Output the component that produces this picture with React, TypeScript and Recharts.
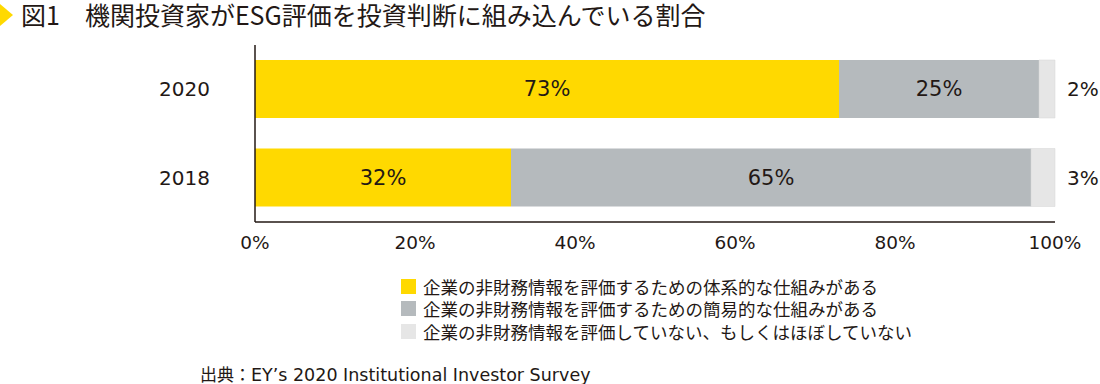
import React from 'react';
import { BarChart, Bar, XAxis, YAxis, LabelList, Legend } from 'recharts';

const years = ['2020', '2018'];
const systematic = [73, 32];
const simple = [25, 65];
const none = [2, 3];
const xTicks = [0, 20, 40, 60, 80, 100];

const seriesNames = [
  '企業の非財務情報を評価するための体系的な仕組みがある',
  '企業の非財務情報を評価するための簡易的な仕組みがある',
  '企業の非財務情報を評価していない、もしくはほぼしていない',
];

const COLORS = ['#FFD900', '#B5BABD', '#E6E6E6'];
const TEXT = '#231815';
const JP_FONT = '"Noto Sans CJK JP", "Noto Sans", sans-serif';
const NUM_FONT = '"DejaVu Sans", sans-serif';

const data = years.map((year, i) => ({
  year,
  systematic: systematic[i],
  simple: simple[i],
  none: none[i],
}));

const pct = (v: any) => `${v}%`;

const LegendBox = () => (
  <div style={{ fontFamily: JP_FONT, fontSize: 17.5, color: TEXT, lineHeight: 1 }}>
    {seriesNames.map((name, i) => (
      <div key={name} style={{ display: 'flex', alignItems: 'center', height: 22.5 }}>
        <span
          style={{
            display: 'inline-block',
            width: 15,
            height: 15,
            background: COLORS[i],
            marginRight: 7,
            flex: 'none',
          }}
        />
        <span style={{ whiteSpace: 'nowrap' }}>{name}</span>
      </div>
    ))}
  </div>
);

const App: React.FC = () => {
  return (
    <div style={{ position: 'absolute', top: 0, left: 0, width: 1100, height: 384, background: '#fff', overflow: 'hidden' }}>
      {/* title */}
      <div style={{ position: 'absolute', left: 0, top: 4, width: 0, height: 0, borderTop: '11px solid transparent', borderBottom: '11px solid transparent', borderLeft: '13px solid #FFD900' }} />
      <div
        style={{
          position: 'absolute',
          left: 21,
          top: 0,
          fontFamily: JP_FONT,
          fontSize: 25,
          color: TEXT,
          whiteSpace: 'pre',
          lineHeight: '28px',
        }}
      >
        {'図1　機関投資家がESG評価を投資判断に組み込んでいる割合'}
      </div>

      <BarChart
        width={1100}
        height={384}
        data={data}
        layout="vertical"
        margin={{ top: 45, right: 45, left: 0, bottom: 122 }}
        style={{ position: 'absolute', top: 0, left: 0 }}
      >
        <XAxis
          type="number"
          domain={[0, 100]}
          ticks={xTicks}
          tickFormatter={pct}
          tickLine={false}
          tickSize={0}
          tickMargin={14}
          height={40}
          axisLine={{ stroke: TEXT, strokeWidth: 1.5 }}
          tick={{ fill: TEXT, fontSize: 18.5, fontFamily: NUM_FONT }}
          interval={0}
        />
        <YAxis
          type="category"
          dataKey="year"
          width={255}
          tickLine={false}
          tickSize={0}
          tickMargin={45}
          axisLine={{ stroke: TEXT, strokeWidth: 1.5 }}
          tick={{ fill: TEXT, fontSize: 20, fontFamily: NUM_FONT }}
        />
        <Legend
          layout="vertical"
          align="center"
          verticalAlign="middle"
          content={() => <LegendBox />}
          wrapperStyle={{ top: 275, left: 401, width: 'auto' }}
        />
        <Bar dataKey="systematic" name={seriesNames[0]} stackId="a" fill={COLORS[0]} barSize={58} isAnimationActive={false}>
          <LabelList dataKey="systematic" position="center" formatter={pct} fill={TEXT} fontSize={21} fontFamily={NUM_FONT} />
        </Bar>
        <Bar dataKey="simple" name={seriesNames[1]} stackId="a" fill={COLORS[1]} barSize={58} isAnimationActive={false}>
          <LabelList dataKey="simple" position="center" formatter={pct} fill={TEXT} fontSize={21} fontFamily={NUM_FONT} />
        </Bar>
        <Bar dataKey="none" name={seriesNames[2]} stackId="a" fill={COLORS[2]} stroke="#d6d6d6" strokeWidth={0.5} barSize={58} isAnimationActive={false}>
          <LabelList dataKey="none" position="right" offset={12} formatter={pct} fill={TEXT} fontSize={20} fontFamily={NUM_FONT} />
        </Bar>
      </BarChart>

      {/* source */}
      <div
        style={{
          position: 'absolute',
          left: 200,
          top: 364,
          fontFamily: '"DejaVu Sans", "Noto Sans CJK JP", sans-serif',
          fontSize: 17.5,
          color: TEXT,
          whiteSpace: 'pre',
          lineHeight: '20px',
        }}
      >
        <span style={{ fontFamily: JP_FONT, fontSize: 17 }}>{'出典：'}</span>
        {'EY’s 2020 Institutional Investor Survey'}
      </div>
    </div>
  );
};

export default App;
